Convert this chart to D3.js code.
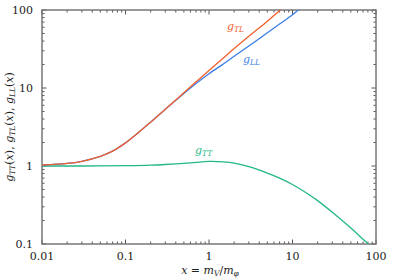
<!DOCTYPE html>
<html><head><meta charset="utf-8">
<script src="https://cdn.jsdelivr.net/npm/d3@7"></script>
<style>body{margin:0;background:#fff}svg{display:block}
text{font-family:"DejaVu Serif","Liberation Serif","Times New Roman","Noto Serif",serif;}</style>
</head><body>
<svg id="c" width="394" height="279"></svg>
<script>
const xTicks = [0.01, 0.1, 1, 10, 100];
const xTickLabels = ["0.01", "0.1", "1", "10", "100"];
const yTicks = [0.1, 1, 10, 100];
const yTickLabels = ["0.1", "1", "10", "100"];

const xTL = [0.01, 0.02, 0.03, 0.05, 0.07, 0.1, 0.15, 0.2, 0.3, 0.5, 0.7, 1, 1.5, 2, 3, 5, 7, 8];
const gTL = [1.03, 1.08, 1.15, 1.33, 1.55, 1.98, 2.8, 3.65, 5.35, 8.7, 12.0, 16.8, 24.5, 32, 46, 72, 98, 110];

const xLL = [0.01, 0.02, 0.03, 0.05, 0.07, 0.1, 0.15, 0.2, 0.3, 0.5, 0.7, 1, 1.5, 2, 3, 5, 7, 10, 12];
const gLL = [1.03, 1.08, 1.15, 1.33, 1.55, 1.98, 2.8, 3.65, 5.35, 8.5, 11.4, 15.2, 20.5, 25.5, 34.5, 51, 66, 87, 102];

const xTT = [0.01, 0.03, 0.1, 0.2, 0.3, 0.5, 0.7, 1, 1.5, 2, 3, 5, 7, 10, 15, 20, 30, 50, 70, 80, 100];
const gTT = [1.0, 1.0, 1.01, 1.025, 1.045, 1.08, 1.115, 1.145, 1.13, 1.09, 0.98, 0.81, 0.70, 0.58, 0.445, 0.36, 0.255, 0.16, 0.115, 0.101, 0.08];

const svg = d3.select("#c");
const L = 42, R = 376, T = 10, B = 244;
const x = d3.scaleLog().domain([0.01, 100]).range([L, R]);
const y = d3.scaleLog().domain([0.1, 100]).range([B, T]);

svg.append("defs").append("clipPath").attr("id", "clip")
  .append("rect").attr("x", L).attr("y", T).attr("width", R - L).attr("height", B - T);

const minorX = [];
for (let d = -2; d < 2; d++) for (let k = 2; k <= 9; k++) minorX.push(k * Math.pow(10, d));
const minorY = [];
for (let d = -1; d < 2; d++) for (let k = 2; k <= 9; k++) minorY.push(k * Math.pow(10, d));

const tg = svg.append("g").attr("stroke", "#555").attr("stroke-width", 1);
minorX.forEach(v => {
  tg.append("line").attr("x1", x(v)).attr("x2", x(v)).attr("y1", B).attr("y2", B - 2.5);
  tg.append("line").attr("x1", x(v)).attr("x2", x(v)).attr("y1", T).attr("y2", T + 2.5);
});
xTicks.forEach(v => {
  tg.append("line").attr("x1", x(v)).attr("x2", x(v)).attr("y1", B).attr("y2", B - 4.5);
  tg.append("line").attr("x1", x(v)).attr("x2", x(v)).attr("y1", T).attr("y2", T + 4.5);
});
minorY.forEach(v => {
  tg.append("line").attr("x1", L).attr("x2", L + 2.5).attr("y1", y(v)).attr("y2", y(v));
  tg.append("line").attr("x1", R).attr("x2", R - 2.5).attr("y1", y(v)).attr("y2", y(v));
});
yTicks.forEach(v => {
  tg.append("line").attr("x1", L).attr("x2", L + 4.5).attr("y1", y(v)).attr("y2", y(v));
  tg.append("line").attr("x1", R).attr("x2", R - 4.5).attr("y1", y(v)).attr("y2", y(v));
});

svg.append("rect").attr("x", L).attr("y", T).attr("width", R - L).attr("height", B - T)
  .attr("fill", "none").attr("stroke", "#777").attr("stroke-width", 1.5);

xTicks.forEach((v, i) => {
  svg.append("text").attr("x", x(v)).attr("y", 260).attr("text-anchor", "middle")
    .attr("font-size", 11).attr("fill", "#222").text(xTickLabels[i]);
});
yTicks.forEach((v, i) => {
  svg.append("text").attr("x", 33).attr("y", y(v) + 4).attr("text-anchor", "end")
    .attr("font-size", 11).attr("fill", "#222").text(yTickLabels[i]);
});

const line = d3.line().x(d => x(d[0])).y(d => y(d[1])).curve(d3.curveCatmullRom.alpha(0.5));
const series = [
  {xs: xTT, ys: gTT, color: "#22b785"},
  {xs: xLL, ys: gLL, color: "#3a7ee6"},
  {xs: xTL, ys: gTL, color: "#f0602e"}
];
const cg = svg.append("g").attr("clip-path", "url(#clip)");
series.forEach(s => {
  cg.append("path").datum(s.xs.map((v, i) => [v, s.ys[i]]))
    .attr("d", line).attr("fill", "none").attr("stroke", s.color).attr("stroke-width", 1.3);
});

function label(px, py, sub, color) {
  const t = svg.append("text").attr("x", px).attr("y", py)
    .attr("font-style", "italic").attr("font-size", 11).attr("fill", color);
  t.append("tspan").text("g");
  t.append("tspan").attr("font-size", 7.5).attr("dy", 2).text(sub);
}
label(227, 30, "TL", "#f0602e");
label(243, 63, "LL", "#3a7ee6");
label(195, 154, "TT", "#22b785");

const xt = svg.append("text").attr("x", 210).attr("y", 274).attr("text-anchor", "middle")
  .attr("font-size", 11).attr("fill", "#222");
xt.append("tspan").attr("font-style", "italic").text("x");
xt.append("tspan").text(" = ");
xt.append("tspan").attr("font-style", "italic").text("m");
xt.append("tspan").attr("font-style", "italic").attr("font-size", 7.5).attr("dy", 2).text("V");
xt.append("tspan").attr("dy", -2).text("/");
xt.append("tspan").attr("font-style", "italic").text("m");
xt.append("tspan").attr("font-style", "italic").attr("font-size", 7.5).attr("dy", 2).text("φ");

const yt = svg.append("text").attr("transform", `translate(13,${(T + B) / 2}) rotate(-90)`)
  .attr("text-anchor", "middle").attr("font-size", 11).attr("fill", "#222");
[["TT", ", "], ["TL", ", "], ["LL", ""]].forEach(([s, sep]) => {
  yt.append("tspan").attr("font-style", "italic").text("g");
  yt.append("tspan").attr("font-style", "italic").attr("font-size", 7.5).attr("dy", 2).text(s);
  yt.append("tspan").attr("dy", -2).text("(");
  yt.append("tspan").attr("font-style", "italic").text("x");
  yt.append("tspan").text(")" + sep);
});
</script>
</body></html>
